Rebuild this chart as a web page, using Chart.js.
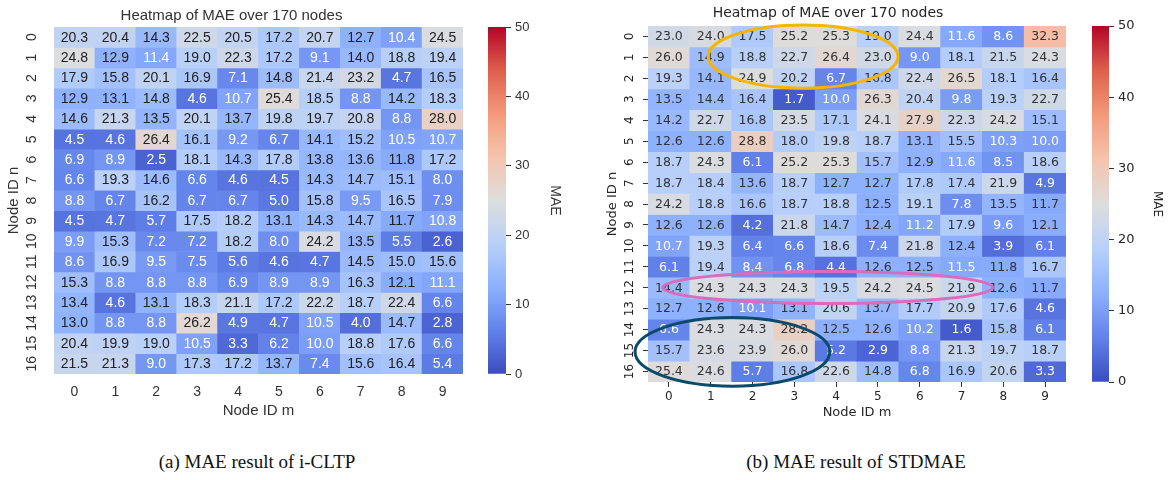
<!DOCTYPE html>
<html>
<head>
<meta charset="utf-8">
<script src="https://cdn.jsdelivr.net/npm/chart.js@4.4.1/dist/chart.umd.min.js"></script>
<style>
  html, body { margin: 0; padding: 0; background: #fff; }
  #page { position: relative; width: 1170px; height: 480px; overflow: hidden; }
  canvas { position: absolute; top: 0; }
  .caption { position: absolute; top: 451px; line-height: 22px; font-family: 'Liberation Serif', 'DejaVu Serif', serif; font-size: 19px; color: #111; transform: translateX(-50%); white-space: nowrap; }
</style>
</head>
<body>
<div id="page">
  <canvas id="heatA" width="517" height="430" style="left:0"></canvas>
  <canvas id="barA" width="100" height="430" style="left:480px"></canvas>
  <canvas id="heatB" width="534" height="430" style="left:590px"></canvas>
  <canvas id="barB" width="90" height="430" style="left:1080px"></canvas>
  <div class="caption" style="left:257px">(a) MAE result of i-CLTP</div>
  <div class="caption" style="left:856px">(b) MAE result of STDMAE</div>
</div>
<script>
'use strict';

// 축 라벨
const colLabels = ['0', '1', '2', '3', '4', '5', '6', '7', '8', '9'];
const rowLabels = ['0', '1', '2', '3', '4', '5', '6', '7', '8', '9', '10', '11', '12', '13', '14', '15', '16'];
const cbarTicks = [0, 10, 20, 30, 40, 50];

// (a) i-CLTP 의 MAE (행 = Node ID n, 열 = Node ID m)
const maeICLTP = [
    [20.3, 20.4, 14.3, 22.5, 20.5, 17.2, 20.7, 12.7, 10.4, 24.5],
    [24.8, 12.9, 11.4, 19.0, 22.3, 17.2, 9.1, 14.0, 18.8, 19.4],
    [17.9, 15.8, 20.1, 16.9, 7.1, 14.8, 21.4, 23.2, 4.7, 16.5],
    [12.9, 13.1, 14.8, 4.6, 10.7, 25.4, 18.5, 8.8, 14.2, 18.3],
    [14.6, 21.3, 13.5, 20.1, 13.7, 19.8, 19.7, 20.8, 8.8, 28.0],
    [4.5, 4.6, 26.4, 16.1, 9.2, 6.7, 14.1, 15.2, 10.5, 10.7],
    [6.9, 8.9, 2.5, 18.1, 14.3, 17.8, 13.8, 13.6, 11.8, 17.2],
    [6.6, 19.3, 14.6, 6.6, 4.6, 4.5, 14.3, 14.7, 15.1, 8.0],
    [8.8, 6.7, 16.2, 6.7, 6.7, 5.0, 15.8, 9.5, 16.5, 7.9],
    [4.5, 4.7, 5.7, 17.5, 18.2, 13.1, 14.3, 14.7, 11.7, 10.8],
    [9.9, 15.3, 7.2, 7.2, 18.2, 8.0, 24.2, 13.5, 5.5, 2.6],
    [8.6, 16.9, 9.5, 7.5, 5.6, 4.6, 4.7, 14.5, 15.0, 15.6],
    [15.3, 8.8, 8.8, 8.8, 6.9, 8.9, 8.9, 16.3, 12.1, 11.1],
    [13.4, 4.6, 13.1, 18.3, 21.1, 17.2, 22.2, 18.7, 22.4, 6.6],
    [13.0, 8.8, 8.8, 26.2, 4.9, 4.7, 10.5, 4.0, 14.7, 2.8],
    [20.4, 19.9, 19.0, 10.5, 3.3, 6.2, 10.0, 18.8, 17.6, 6.6],
    [21.5, 21.3, 9.0, 17.3, 17.2, 13.7, 7.4, 15.6, 16.4, 5.4]
];

// (b) STDMAE 의 MAE
const maeSTDMAE = [
    [23.0, 24.0, 17.5, 25.2, 25.3, 19.0, 24.4, 11.6, 8.6, 32.3],
    [26.0, 14.9, 18.8, 22.7, 26.4, 23.0, 9.0, 18.1, 21.5, 24.3],
    [19.3, 14.1, 24.9, 20.2, 6.7, 16.8, 22.4, 26.5, 18.1, 16.4],
    [13.5, 14.4, 16.4, 1.7, 10.0, 26.3, 20.4, 9.8, 19.3, 22.7],
    [14.2, 22.7, 16.8, 23.5, 17.1, 24.1, 27.9, 22.3, 24.2, 15.1],
    [12.6, 12.6, 28.8, 18.0, 19.8, 18.7, 13.1, 15.5, 10.3, 10.0],
    [18.7, 24.3, 6.1, 25.2, 25.3, 15.7, 12.9, 11.6, 8.5, 18.6],
    [18.7, 18.4, 13.6, 18.7, 12.7, 12.7, 17.8, 17.4, 21.9, 4.9],
    [24.2, 18.8, 16.6, 18.7, 18.8, 12.5, 19.1, 7.8, 13.5, 11.7],
    [12.6, 12.6, 4.2, 21.8, 14.7, 12.4, 11.2, 17.9, 9.6, 12.1],
    [10.7, 19.3, 6.4, 6.6, 18.6, 7.4, 21.8, 12.4, 3.9, 6.1],
    [6.1, 19.4, 8.4, 6.8, 4.4, 12.6, 12.5, 11.5, 11.8, 16.7],
    [14.4, 24.3, 24.3, 24.3, 19.5, 24.2, 24.5, 21.9, 12.6, 11.7],
    [12.7, 12.6, 10.1, 13.1, 20.6, 13.7, 17.7, 20.9, 17.6, 4.6],
    [6.6, 24.3, 24.3, 28.2, 12.5, 12.6, 10.2, 1.6, 15.8, 6.1],
    [15.7, 23.6, 23.9, 26.0, 5.2, 2.9, 8.8, 21.3, 19.7, 18.7],
    [25.4, 24.6, 5.7, 16.8, 22.6, 14.8, 6.8, 16.9, 20.6, 3.3]
];

// (b) 위에 그려진 강조 타원 (셀 단위 범위)
const highlights = [
    { color: '#f7b500', c0: 0.94, c1: 5.48, r0: -0.55, r1: 2.47 },
    { color: '#d96cbc', c0: -0.15, c1: 7.75, r0: 11.22, r1: 12.75 },
    { color: '#0c4a6a', c0: -0.81, c1: 3.85, r0: 13.42, r1: 16.7 }
];

const vmin = 0, vmax = 50;
const textCut = 11.65; // 이 값보다 작으면 흰 글씨

// matplotlib coolwarm 색상표 (1/8 간격)
const coolwarm = [
    [0.000, 59, 76, 192],
    [0.125, 98, 130, 234],
    [0.250, 141, 176, 254],
    [0.375, 184, 208, 249],
    [0.500, 221, 221, 221],
    [0.625, 245, 196, 173],
    [0.750, 244, 154, 123],
    [0.875, 222, 96, 77],
    [1.000, 180, 4, 38]
];

const fontA = "'Liberation Sans', Arial, sans-serif";
const fontB = "'DejaVu Sans', sans-serif";

function cmap(v) {
    const t = Math.min(1, Math.max(0, (v - vmin) / (vmax - vmin)));
    for (let i = 1; i < coolwarm.length; i++) {
        const a = coolwarm[i - 1], b = coolwarm[i];
        if (t <= b[0]) {
            const k = (t - a[0]) / (b[0] - a[0]);
            const c = [1, 2, 3].map(j => Math.round(a[j] + (b[j] - a[j]) * k));
            return `rgb(${c[0]},${c[1]},${c[2]})`;
        }
    }
    return 'rgb(180,4,38)';
}

// 셀 안의 숫자
const cellText = {
    id: 'cellText',
    afterDatasetsDraw(chart, args, opts) {
        const ctx = chart.ctx;
        ctx.save();
        ctx.font = opts.font;
        ctx.textAlign = 'center';
        ctx.textBaseline = 'middle';
        chart.data.datasets.forEach((ds, i) => {
            chart.getDatasetMeta(i).data.forEach((bar, j) => {
                const v = ds.mae[j];
                ctx.fillStyle = v < textCut ? '#ffffff' : opts.dark;
                ctx.fillText(v.toFixed(1), bar.x, (bar.y + bar.base) / 2 + 0.5);
            });
        });
        ctx.restore();
    }
};

// 강조 타원
const rings = {
    id: 'rings',
    afterDraw(chart, args, opts) {
        if (!opts.list) return;
        const { x, y } = chart.scales;
        const ctx = chart.ctx;
        ctx.save();
        ctx.lineWidth = 3;
        opts.list.forEach(h => {
            const x0 = x.getPixelForValue(h.c0), x1 = x.getPixelForValue(h.c1);
            const y0 = y.getPixelForValue(h.r0), y1 = y.getPixelForValue(h.r1);
            ctx.strokeStyle = h.color;
            ctx.beginPath();
            ctx.ellipse((x0 + x1) / 2, (y0 + y1) / 2, Math.abs(x1 - x0) / 2, Math.abs(y1 - y0) / 2, 0, 0, Math.PI * 2);
            ctx.stroke();
        });
        ctx.restore();
    }
};

function heatmapConfig(values, s) {
    const datasets = values.map((row, r) => ({
        label: 'n' + rowLabels[r],
        data: row.map(() => [r - 0.5, r + 0.5]),
        mae: row,
        backgroundColor: row.map(v => cmap(v)),
        borderWidth: 0,
        grouped: false,
        barPercentage: 1,
        categoryPercentage: 1
    }));
    return {
        type: 'bar',
        data: { labels: colLabels, datasets },
        options: {
            responsive: false,
            animation: false,
            events: [],
            layout: { padding: { left: 0, right: s.yWidth, top: 0, bottom: 0 } },
            plugins: {
                legend: { display: false },
                tooltip: { enabled: false },
                title: {
                    display: true,
                    text: 'Heatmap of MAE over 170 nodes',
                    color: s.color,
                    font: { family: s.font, size: s.titleSize, weight: 'normal' },
                    padding: s.titlePad
                },
                cellText: { font: s.cellFont, dark: s.dark },
                rings: { list: s.rings }
            },
            scales: {
                x: {
                    type: 'category',
                    offset: true,
                    grid: { display: s.tickMarks, drawOnChartArea: false, drawTicks: s.tickMarks, tickLength: 5, offset: false, color: '#333' },
                    border: { display: false },
                    ticks: { padding: s.xPad, color: s.color, font: { family: s.font, size: s.tickSize } },
                    title: { display: true, text: 'Node ID m', color: s.color, font: { family: s.font, size: s.axisSize }, padding: { top: 0, bottom: s.xTitlePad } },
                    afterFit: (a) => { a.height = s.xHeight; }
                },
                y: {
                    type: 'linear',
                    min: -0.5,
                    max: rowLabels.length - 0.5,
                    reverse: true,
                    afterBuildTicks: (a) => { a.ticks = rowLabels.map((_, i) => ({ value: i })); },
                    grid: { display: s.tickMarks, drawOnChartArea: false, drawTicks: s.tickMarks, tickLength: 5, color: '#333' },
                    border: { display: false },
                    ticks: {
                        padding: s.yPad, minRotation: 90, maxRotation: 90, crossAlign: 'center',
                        color: s.color, font: { family: s.font, size: s.tickSize },
                        callback: (v) => rowLabels[v]
                    },
                    title: { display: true, text: 'Node ID n', color: s.color, font: { family: s.font, size: s.axisSize }, padding: { top: s.yTitlePad, bottom: 0 } },
                    afterFit: (a) => { a.width = s.yWidth; }
                }
            }
        },
        plugins: [cellText, rings]
    };
}

function cbarGradient(chart) {
    const y = chart.scales.y;
    if (!chart.chartArea || !y) return cmap((vmin + vmax) / 2);
    const p0 = y.getPixelForValue(vmin), p1 = y.getPixelForValue(vmax);
    if (!isFinite(p0) || !isFinite(p1)) return cmap((vmin + vmax) / 2);
    const g = chart.ctx.createLinearGradient(0, p0, 0, p1);
    coolwarm.forEach(c => g.addColorStop(c[0], `rgb(${c[1]},${c[2]},${c[3]})`));
    return g;
}

function colorbarConfig(s) {
    return {
        type: 'bar',
        data: {
            labels: ['MAE'],
            datasets: [{ data: [[vmin, vmax]], backgroundColor: (c) => cbarGradient(c.chart), borderWidth: 0, barPercentage: 1, categoryPercentage: 1 }]
        },
        options: {
            responsive: false,
            animation: false,
            events: [],
            layout: { padding: s.pad },
            plugins: { legend: { display: false }, tooltip: { enabled: false } },
            scales: {
                x: { display: false },
                y: {
                    position: 'right',
                    min: vmin,
                    max: vmax,
                    afterBuildTicks: (a) => { a.ticks = cbarTicks.map(v => ({ value: v })); },
                    grid: { drawOnChartArea: false, drawTicks: true, tickLength: 5, color: '#333' },
                    border: { display: false },
                    ticks: { padding: 4, color: s.color, font: { family: s.font, size: 13 } },
                    title: { display: true, text: 'MAE', color: s.color, font: { family: s.font, size: s.titleSize }, padding: { top: s.titlePad, bottom: 0 } },
                    afterFit: (a) => { a.width = s.width; }
                }
            }
        }
    };
}

new Chart(document.getElementById('heatA'), heatmapConfig(maeICLTP, {
    font: fontA, color: '#333', dark: '#222', cellFont: "14px 'Liberation Sans', Arial, sans-serif",
    titleSize: 15, titlePad: { top: 7, bottom: 2 }, tickSize: 14, axisSize: 15,
    tickMarks: false, xPad: 10, yPad: 14, xHeight: 56, yWidth: 54, xTitlePad: 10, yTitlePad: 5, rings: null
}));

new Chart(document.getElementById('barA'), colorbarConfig({
    font: fontA, color: '#333', titleSize: 14, titlePad: 16.6, width: 74,
    pad: { left: 8, right: 0, top: 27, bottom: 56 }
}));

new Chart(document.getElementById('heatB'), heatmapConfig(maeSTDMAE, {
    font: fontB, color: '#262626', dark: '#333', cellFont: "12.5px 'DejaVu Sans', sans-serif",
    titleSize: 14, titlePad: { top: 4.6, bottom: 4.6 }, tickSize: 12, axisSize: 13,
    tickMarks: true, xPad: 2.5, yPad: 5.4, xHeight: 48, yWidth: 58, xTitlePad: 9.5, yTitlePad: 15.2, rings: highlights
}));

new Chart(document.getElementById('barB'), colorbarConfig({
    font: fontB, color: '#262626', titleSize: 12, titlePad: 5.8, width: 61,
    pad: { left: 12, right: 0, top: 26, bottom: 48 }
}));
</script>
</body>
</html>
